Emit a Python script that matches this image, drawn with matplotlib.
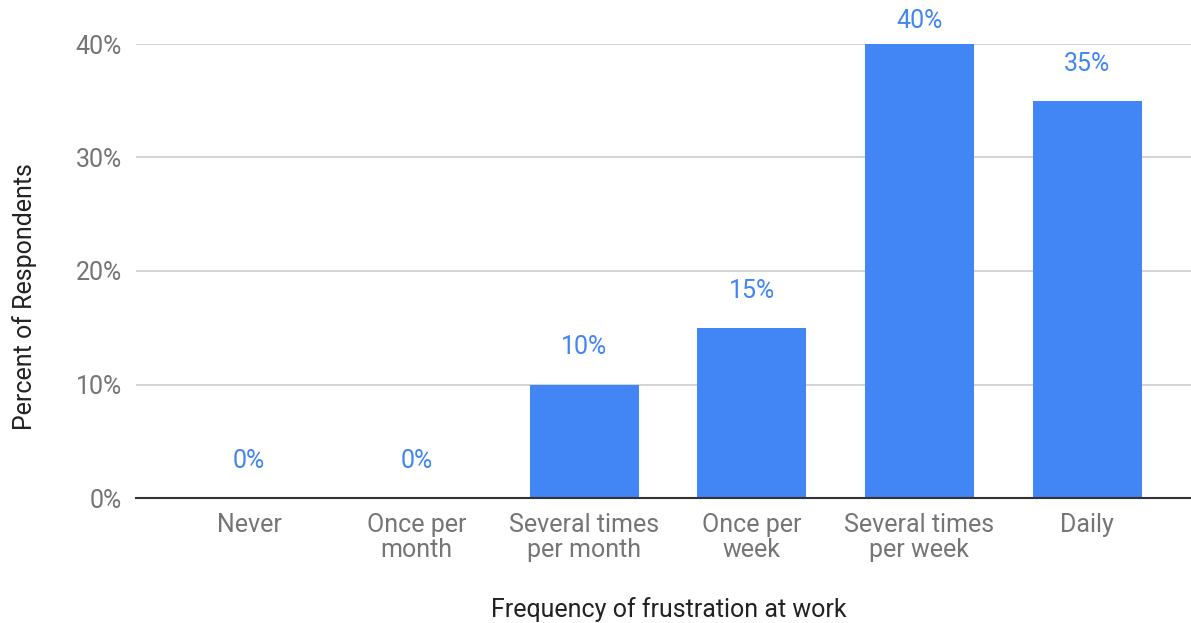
import matplotlib
matplotlib.use("Agg")
import matplotlib.pyplot as plt

categories = ["Never", "Once per\nmonth", "Several times\nper month", "Once per\nweek",
              "Several times\nper week", "Daily"]
values = [0, 0, 10, 15, 40, 35]
yticks = [0, 10, 20, 30, 40]

plt.rcParams['font.family'] = ['Roboto', 'DejaVu Sans']

W, H = 1191, 623
fig = plt.figure(figsize=(W / 100, H / 100), dpi=100)
ax = fig.add_axes([136/W, (H-498)/H, 1 - 136/W, (498-44)/H])

x = list(range(len(categories)))
ax.bar(x, values, width=0.65, color="#4285F4", zorder=3)

ymax = 40
px_per_unit = (498 - 44) / ymax
for xi, v in zip(x, values):
    top_px = 44 + (ymax - v) * px_per_unit  # distance from figure top
    off_px = min(37, top_px - 21)
    ax.annotate(f"{v}%", (xi, v), xytext=(0, off_px * 0.72), textcoords="offset points",
                ha="center", va="center", color="#4285F4", fontsize=18,
                annotation_clip=False)

ax.set_xlim(-0.674, 5.62)
ax.set_ylim(0, ymax)
ax.set_yticks(yticks)
ax.set_yticklabels([f"{t}%" for t in yticks])
ax.set_xticks(x)
ax.set_xticklabels(categories, linespacing=1.06)
ax.tick_params(axis="y", length=0, pad=10, labelsize=18, labelcolor="#757575")
ax.tick_params(axis="x", length=0, pad=10.5, labelsize=18, labelcolor="#757575")
ax.yaxis.grid(True, color="#CCCCCC", linewidth=1.2, zorder=0)
for s in ["top", "right", "left"]:
    ax.spines[s].set_visible(False)
ax.spines["bottom"].set_color("#333333")
ax.spines["bottom"].set_linewidth(1.5)
ax.spines["bottom"].set_zorder(4)

fig.text(669/W, 1 - 610/H, "Frequency of frustration at work", ha="center", va="center",
         fontsize=18, color="#222222")
fig.text(25/W, 1 - 297/H, "Percent of Respondents", ha="center", va="center",
         rotation=90, fontsize=18, color="#222222")

fig.savefig("out.png", dpi=100)
